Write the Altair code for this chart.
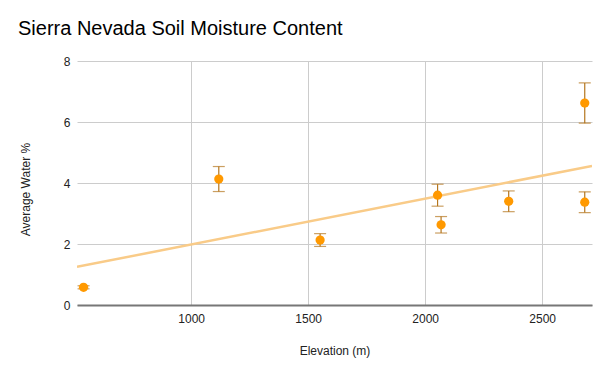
import altair as alt
import pandas as pd

elevation = [540, 1118, 1551, 2053, 2068, 2357, 2682, 2682]
water = [0.58, 4.13, 2.13, 3.60, 2.63, 3.40, 6.62, 3.37]
err = [0.05, 0.41, 0.21, 0.36, 0.27, 0.34, 0.66, 0.34]

trend_x = [512, 2713]
trend_y = [1.25, 4.56]

x_ticks = [1000, 1500, 2000, 2500]
y_ticks = [0, 2, 4, 6, 8]

df = pd.DataFrame({"elev": elevation, "water": water, "err": err})
df["lo"] = df["water"] - df["err"]
df["hi"] = df["water"] + df["err"]
tdf = pd.DataFrame({"elev": trend_x, "water": trend_y})

FONT = "Liberation Sans"
xs = alt.Scale(domain=[512, 2713], nice=False, zero=False)
ys = alt.Scale(domain=[0, 8], nice=False)

xax = alt.Axis(values=x_ticks, format="d", title="Elevation (m)", grid=True, gridColor="#cccccc",
               ticks=False, domainColor="#777777", domainWidth=2, labelPadding=8,
               labelFontSize=12, labelColor="#222222", titleFontSize=12,
               titleFontWeight="normal", titleColor="#222222", titlePadding=21,
               labelFont=FONT, titleFont=FONT)
yax = alt.Axis(values=y_ticks, title="Average Water %", grid=True, gridColor="#cccccc",
               ticks=False, domain=False, labelPadding=7, labelFontSize=12,
               labelColor="#222222", titleFontSize=12, titleFontWeight="normal",
               titleColor="#222222", titlePadding=31, titleY=128, labelFont=FONT, titleFont=FONT)

base = alt.Chart(df)

trend = alt.Chart(tdf).mark_line(color="#F9CB88", strokeWidth=2.5, clip=True).encode(
    x=alt.X("elev:Q", scale=xs, axis=xax),
    y=alt.Y("water:Q", scale=ys, axis=yax),
)

bars = base.mark_rule(color="#B5761E", strokeWidth=1.2).encode(
    x=alt.X("elev:Q", scale=xs),
    y=alt.Y("lo:Q", scale=ys),
    y2="hi:Q",
)
caps_hi = base.mark_tick(color="#B5761E", orient="horizontal", size=12, thickness=1.2).encode(
    x=alt.X("elev:Q", scale=xs), y=alt.Y("hi:Q", scale=ys))
caps_lo = base.mark_tick(color="#B5761E", orient="horizontal", size=12, thickness=1.2).encode(
    x=alt.X("elev:Q", scale=xs), y=alt.Y("lo:Q", scale=ys))

pts = base.mark_circle(color="#FF9900", size=85, opacity=1).encode(
    x=alt.X("elev:Q", scale=xs),
    y=alt.Y("water:Q", scale=ys),
)

chart = alt.layer(trend, bars, caps_hi, caps_lo, pts).properties(
    width=515, height=244,
    title=alt.TitleParams("Sierra Nevada Soil Moisture Content", anchor="start",
                          frame="group", dx=-59, fontSize=20, fontWeight="normal",
                          font=FONT, color="#000000", offset=16),
    autosize=alt.AutoSizeParams(type="none"),
    padding={"left": 69, "top": 53, "right": 7, "bottom": 60},
).configure_view(stroke=None)

chart.save("out.html", embed_options={"renderer": "svg", "actions": False})
